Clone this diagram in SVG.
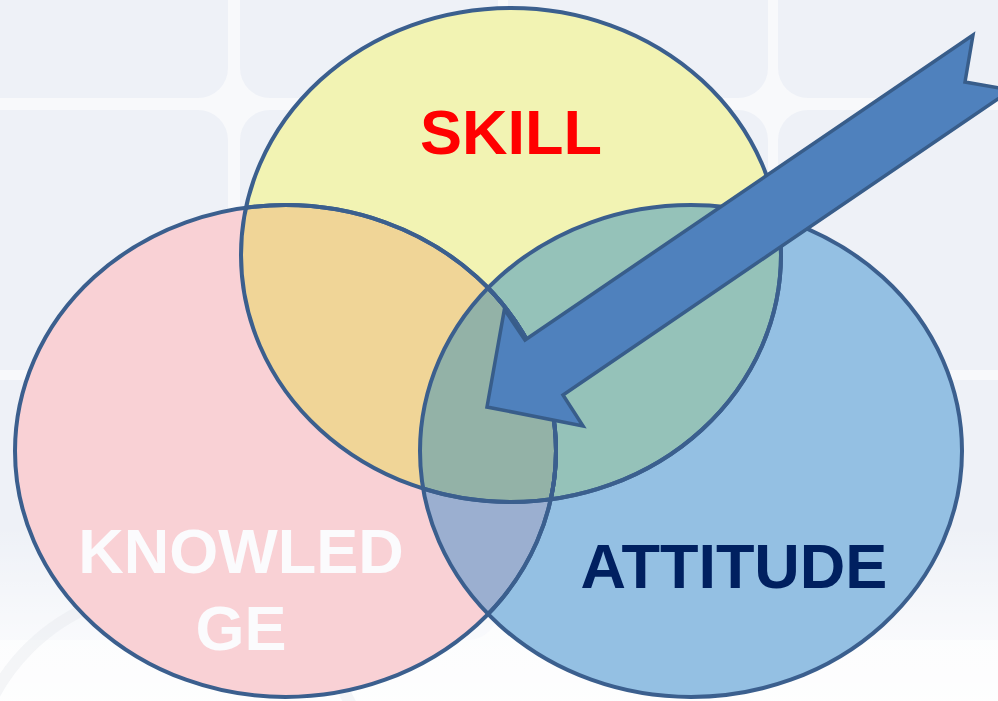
<svg xmlns="http://www.w3.org/2000/svg" width="998" height="701" viewBox="0 0 998 701">
  <style>
    .tile { fill: #EEF1F7; }
    .lbl { font-family: "Liberation Sans", Arial, sans-serif; font-weight: bold; font-size: 63px; text-anchor: middle; }
    .edge { fill: none; stroke: #3B5F8E; stroke-width: 4; }
  </style>
  <defs>
    <clipPath id="cK"><ellipse cx="285.5" cy="451" rx="270.5" ry="246"/></clipPath>
    <clipPath id="cS"><ellipse cx="511" cy="255" rx="270" ry="247"/></clipPath>
    <clipPath id="cA"><ellipse cx="691" cy="451" rx="271" ry="246"/></clipPath>
    <linearGradient id="fade" x1="0" y1="0" x2="0" y2="1">
      <stop offset="0" stop-color="#FFFFFF" stop-opacity="0"/>
      <stop offset="0.75" stop-color="#FFFFFF" stop-opacity="0"/>
      <stop offset="0.9" stop-color="#FFFFFF" stop-opacity="0.6"/>
      <stop offset="1" stop-color="#FFFFFF" stop-opacity="0.8"/>
    </linearGradient>
  </defs>

  <g id="background">
    <rect x="0" y="0" width="998" height="701" fill="#F8F9FB"/>
    <rect class="tile" x="-30" y="-160" width="258" height="258" rx="30"/>
    <rect class="tile" x="240" y="-160" width="258" height="258" rx="30"/>
    <rect class="tile" x="508" y="-160" width="260" height="258" rx="30"/>
    <rect class="tile" x="778" y="-160" width="260" height="258" rx="30"/>
    <rect class="tile" x="-30" y="110" width="258" height="260" rx="30"/>
    <rect class="tile" x="240" y="110" width="258" height="260" rx="30"/>
    <rect class="tile" x="508" y="110" width="260" height="260" rx="30"/>
    <rect class="tile" x="778" y="110" width="260" height="260" rx="30"/>
    <rect class="tile" x="-30" y="380" width="258" height="260" rx="30"/>
    <rect class="tile" x="240" y="380" width="258" height="260" rx="30"/>
    <rect class="tile" x="508" y="380" width="260" height="260" rx="30"/>
    <rect class="tile" x="778" y="380" width="260" height="260" rx="30"/>
    <rect x="0" y="0" width="998" height="701" fill="url(#fade)"/>
    <circle cx="170" cy="790" r="200" fill="none" stroke="#E2E5EC" stroke-width="12" opacity="0.35"/>
  </g>

  <g id="knowledge">
    <ellipse cx="285.5" cy="451" rx="270.5" ry="246" fill="#F9D1D5"/>
  </g>
  <g id="skill">
    <ellipse cx="511" cy="255" rx="270" ry="247" fill="#F2F3B3"/>
  </g>
  <g id="attitude">
    <ellipse cx="691" cy="451" rx="271" ry="246" fill="#94C0E3"/>
  </g>

  <g id="overlaps">
    <g clip-path="url(#cK)">
      <ellipse cx="511" cy="255" rx="270" ry="247" fill="#F0D597"/>
      <ellipse cx="691" cy="451" rx="271" ry="246" fill="#9BAFD0"/>
    </g>
    <g clip-path="url(#cS)">
      <ellipse cx="691" cy="451" rx="271" ry="246" fill="#95C2B9"/>
      <g clip-path="url(#cK)">
        <ellipse cx="691" cy="451" rx="271" ry="246" fill="#93B2A7"/>
      </g>
    </g>
  </g>

  <g id="outlines">
    <ellipse class="edge" cx="285.5" cy="451" rx="270.5" ry="246"/>
    <g clip-path="url(#cS)">
      <ellipse class="edge" cx="285.5" cy="451" rx="270.5" ry="246" stroke="#6A8A62"/>
    </g>
    <g clip-path="url(#cA)">
      <ellipse class="edge" cx="285.5" cy="451" rx="270.5" ry="246" stroke="#2E6AA6"/>
      <g clip-path="url(#cS)">
        <ellipse class="edge" cx="285.5" cy="451" rx="270.5" ry="246" stroke="#3E8A8F"/>
      </g>
    </g>
    <ellipse class="edge" cx="511" cy="255" rx="270" ry="247"/>
    <g clip-path="url(#cA)">
      <ellipse class="edge" cx="511" cy="255" rx="270" ry="247" stroke="#2A66A6"/>
    </g>
    <ellipse class="edge" cx="691" cy="451" rx="271" ry="246"/>
  </g>

  <g id="labels">
    <text class="lbl" x="511" y="154" fill="#FF0000">SKILL</text>
    <text class="lbl" x="241" y="573" fill="#FBFBFD">KNOWLED</text>
    <text class="lbl" x="241" y="650" fill="#FBFBFD">GE</text>
    <text class="lbl" x="734" y="588" fill="#002060">ATTITUDE</text>
  </g>

  <g id="connectors">
    <polygon points="487,407 504.4,309.4 525,340 973,35 965,82 1011,90 563,395 583,426" fill="#4F81BD" stroke="#385D8A" stroke-width="3.5" stroke-linejoin="miter"/>
  </g>
</svg>
